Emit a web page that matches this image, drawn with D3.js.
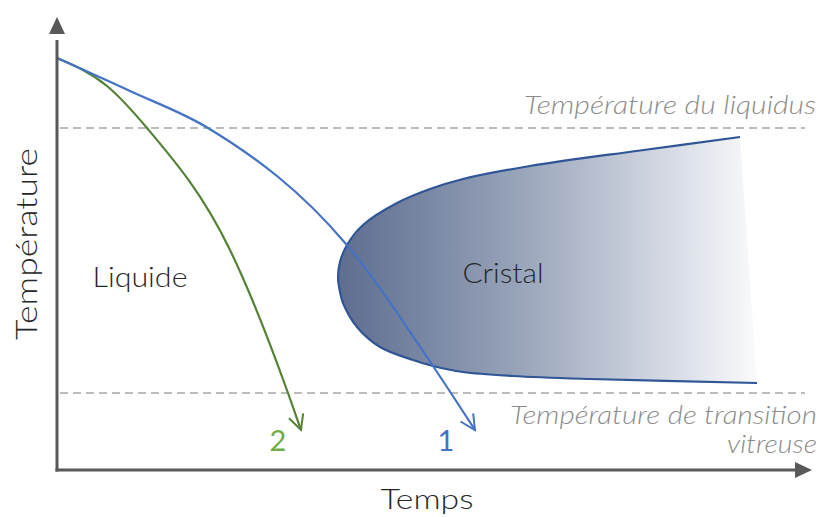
<!DOCTYPE html>
<html>
<head>
<meta charset="utf-8">
<script src="https://cdn.jsdelivr.net/npm/d3@7"></script>
<style>
  html, body { margin: 0; padding: 0; background: #fff; }
  svg { display: block; }
  text { font-family: Lato, "Open Sans", sans-serif; }
</style>
</head>
<body>
<svg id="chart" width="819" height="517"></svg>
<script>
// ---- Data (time units / temperature units) ----
const liquidusTemp = 342;
const glassTemp = 77;

// Cooling path 1 (slow, blue) [time, temperature]
const path1 = [[0,412],[73,379],[151,342],[289,226],[376,104],[418,40]];
// Cooling path 2 (fast, green)
const path2 = [[0,412],[50,384],[90,342],[173,220],[231,77],[244,40]];

// Crystallisation "nose" (TTT curve), from upper-right end, round the nose, to lower-right end
const crystal = [[683,333],[583,319.5],[473,304],[406,291],[373,281],[340,267],
                 [306,245],[290,225],[283,208],[281,193],[283,178],[286,167],[300,143],[323,123],
                 [356,110],[376,104],[406,98],[456,94],[533,91],[700,87]];

const regionLabels = [
  {text: "Liquide", t: 83, T: 183, len: 95},
  {text: "Cristal", t: 446, T: 187, len: 81}
];
const pathLabels = [
  {text: "1", t: 389, T: 18, color: "#4472c4"},
  {text: "2", t: 221, T: 18, color: "#70ad47"}
];

// ---- Scales ----
const x = d3.scaleLinear().domain([0, 760]).range([57, 817]);
const y = d3.scaleLinear().domain([0, 460]).range([470, 10]);

const svg = d3.select("#chart");
const defs = svg.append("defs");

const grad = defs.append("linearGradient")
  .attr("id", "crystalGrad")
  .attr("gradientUnits", "userSpaceOnUse")
  .attr("x1", x(281)).attr("x2", x(712)).attr("y1", 0).attr("y2", 0);
[[0, "#5e6d90"], [0.4, "#95a1b7"], [0.75, "#d2d7e2"], [1, "#ffffff"]].forEach(([o, c]) =>
  grad.append("stop").attr("offset", o).attr("stop-color", c));

// open V arrowheads
function arrowMarker(id, color) {
  defs.append("marker")
    .attr("id", id)
    .attr("viewBox", "-16 -9 18 18")
    .attr("refX", 0).attr("refY", 0)
    .attr("markerWidth", 18).attr("markerHeight", 18)
    .attr("markerUnits", "userSpaceOnUse")
    .attr("orient", "auto")
    .append("path")
    .attr("d", "M-15,-7.5 L0,0 L-15,7.5")
    .attr("fill", "none")
    .attr("stroke", color)
    .attr("stroke-width", 2)
    .attr("stroke-linejoin", "miter");
}
arrowMarker("arrBlue", "#4472c4");
arrowMarker("arrGreen", "#548235");

// ---- Crystal region ----
const crystalGen = d3.line().x(d => x(d[0])).y(d => y(d[1])).curve(d3.curveCatmullRom.alpha(0.5));
svg.append("path")
  .attr("d", crystalGen(crystal) + "Z")
  .attr("fill", "url(#crystalGrad)")
  .attr("stroke", "none");
svg.append("path")
  .attr("d", crystalGen(crystal))
  .attr("fill", "none")
  .attr("stroke", "#2f5597")
  .attr("stroke-width", 2.2);

// ---- Dashed reference lines ----
[liquidusTemp, glassTemp].forEach(T => {
  svg.append("line")
    .attr("x1", x(3)).attr("x2", x(748))
    .attr("y1", y(T)).attr("y2", y(T))
    .attr("stroke", "#a6a6a6")
    .attr("stroke-width", 1.4)
    .attr("stroke-dasharray", "8,5");
});

// ---- Cooling paths ----
const pathGen = d3.line().x(d => x(d[0])).y(d => y(d[1])).curve(d3.curveMonotoneX);
svg.append("path")
  .attr("d", pathGen(path2))
  .attr("fill", "none")
  .attr("stroke", "#548235")
  .attr("stroke-width", 2.2)
  .attr("marker-end", "url(#arrGreen)");
svg.append("path")
  .attr("d", pathGen(path1))
  .attr("fill", "none")
  .attr("stroke", "#4472c4")
  .attr("stroke-width", 2.2)
  .attr("marker-end", "url(#arrBlue)");

// ---- Axes with arrowheads ----
const axisColor = "#595959";
svg.append("line")
  .attr("x1", x(0)).attr("x2", x(0))
  .attr("y1", y(0) + 1.5).attr("y2", y(430))
  .attr("stroke", axisColor).attr("stroke-width", 3);
svg.append("path")
  .attr("d", `M${x(0)},${y(453)} L${x(0)-8},${y(436)} L${x(0)+8},${y(436)} Z`)
  .attr("fill", axisColor);
svg.append("line")
  .attr("x1", x(0) - 1.5).attr("x2", x(740))
  .attr("y1", y(0)).attr("y2", y(0))
  .attr("stroke", axisColor).attr("stroke-width", 3);
svg.append("path")
  .attr("d", `M${x(755)},${y(0)} L${x(738)},${y(0)-8} L${x(738)},${y(0)+8} Z`)
  .attr("fill", axisColor);

// ---- Axis titles ----
const textColor = "#262626";
svg.append("text")
  .attr("transform", `translate(37,${y(226)}) rotate(-90)`)
  .attr("text-anchor", "middle")
  .attr("font-size", 29)
  .attr("font-weight", 300)
  .attr("textLength", 192).attr("lengthAdjust", "spacingAndGlyphs")
  .attr("fill", textColor)
  .text("Température");
svg.append("text")
  .attr("x", x(370)).attr("y", 509)
  .attr("text-anchor", "middle")
  .attr("font-size", 28)
  .attr("font-weight", 300)
  .attr("textLength", 93).attr("lengthAdjust", "spacingAndGlyphs")
  .attr("fill", textColor)
  .text("Temps");

// ---- Reference line labels ----
const refStyle = (sel, len) => sel.attr("text-anchor", "end").attr("font-size", 25)
  .attr("font-style", "italic").attr("font-weight", 300).attr("fill", "#8c8c8c")
  .attr("textLength", len).attr("lengthAdjust", "spacingAndGlyphs");
svg.append("text").attr("x", 816).attr("y", 114).call(refStyle, 292).text("Température du liquidus");
svg.append("text").attr("x", 817).attr("y", 424).call(refStyle, 307).text("Température de transition");
svg.append("text").attr("x", 817).attr("y", 453).call(refStyle, 90).text("vitreuse");

// ---- Region labels ----
svg.selectAll("text.region").data(regionLabels).enter().append("text")
  .attr("class", "region")
  .attr("x", d => x(d.t)).attr("y", d => y(d.T))
  .attr("text-anchor", "middle")
  .attr("font-size", 28)
  .attr("font-weight", 300)
  .attr("textLength", d => d.len).attr("lengthAdjust", "spacingAndGlyphs")
  .attr("fill", textColor)
  .text(d => d.text);

// ---- Path labels ----
svg.selectAll("text.plabel").data(pathLabels).enter().append("text")
  .attr("class", "plabel")
  .attr("x", d => x(d.t)).attr("y", d => y(d.T) - 1)
  .attr("text-anchor", "middle")
  .attr("font-size", 29)
  .attr("fill", d => d.color)
  .text(d => d.text);
</script>
</body>
</html>
